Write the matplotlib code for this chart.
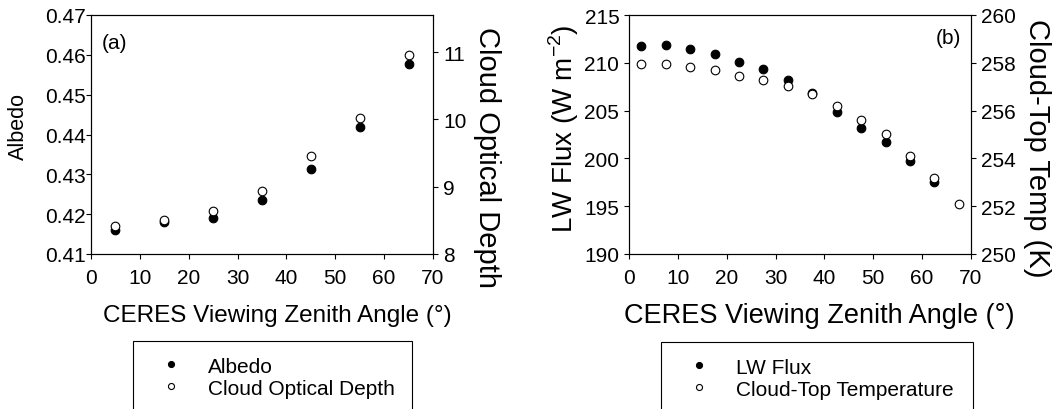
import matplotlib
matplotlib.use('Agg')
import matplotlib.pyplot as plt

plt.rcParams['font.family'] = ['Liberation Sans', 'DejaVu Sans']
plt.rcParams['mathtext.fontset'] = 'custom'
plt.rcParams['mathtext.rm'] = 'Liberation Sans'

# DATA
# panel (a): albedo and cloud optical depth vs viewing zenith angle
vza_a = [5, 15, 25, 35, 45, 55, 65]
albedo = [0.4159, 0.4180, 0.4191, 0.4236, 0.4313, 0.4420, 0.4577]
cod = [8.42, 8.51, 8.64, 8.93, 9.45, 10.02, 10.95]

# panel (b): LW flux and cloud-top temperature vs viewing zenith angle
vza_b = [2.5, 7.5, 12.5, 17.5, 22.5, 27.5, 32.5, 37.5, 42.5, 47.5, 52.5, 57.5, 62.5, 67.5]
lw_flux = [211.8, 211.9, 211.4, 210.9, 210.1, 209.3, 208.2, 206.8, 204.9, 203.2, 201.7, 199.7, 197.5]
ctt = [257.94, 257.94, 257.82, 257.69, 257.43, 257.29, 257.02, 256.68, 256.18, 255.61, 255.02, 254.11, 253.18, 252.09]

W, H = 1053, 410
fig = plt.figure(figsize=(W / 100, H / 100), dpi=100)

def style_axes(ax, left_pad):
    for s in ax.spines.values():
        s.set_linewidth(0.8)
    ax.tick_params(axis='x', direction='out', length=3.5, width=0.8, pad=6.5, labelsize=15, top=False)
    ax.tick_params(axis='y', direction='out', length=3.5, width=0.8, pad=left_pad, labelsize=15)

fill_kw = dict(marker='o', ls='none', ms=6.2, mfc='black', mec='black', mew=0.8, clip_on=False)
open_kw = dict(marker='o', ls='none', ms=6.2, mfc='white', mec='black', mew=0.8, clip_on=False)

# Panel (a)
ax_a = fig.add_axes([91 / W, 155 / H, 342 / W, 239 / H])
ax_a2 = ax_a.twinx()
la1, = ax_a.plot(vza_a, albedo, label='Albedo', **fill_kw)
la2, = ax_a2.plot(vza_a, cod, label='Cloud Optical Depth', **open_kw)
ax_a.set_xlim(0, 70)
ax_a.set_xticks(range(0, 71, 10))
ax_a.set_ylim(0.41, 0.47)
ax_a.set_yticks([0.41, 0.42, 0.43, 0.44, 0.45, 0.46, 0.47])
ax_a.set_yticklabels(['%.2f' % v for v in ax_a.get_yticks()])
ax_a2.set_ylim(8, 11.55)
ax_a2.set_yticks([8, 9, 10, 11])
style_axes(ax_a, 0.5)
ax_a2.tick_params(axis='y', direction='out', length=3.5, width=0.8, pad=4, labelsize=15)
ax_a.set_xlabel('CERES Viewing Zenith Angle (°)', fontsize=17.5, va='center')
ax_a.xaxis.set_label_coords(0.544, -0.255)
ax_a.set_ylabel('Albedo', fontsize=15.5, va='center')
ax_a.yaxis.set_label_coords(-0.211, 0.538)
ax_a2.set_ylabel('Cloud Optical Depth', fontsize=21, rotation=-90, va='center')
ax_a2.yaxis.set_label_coords(1.158, 0.406)
ax_a.text(0.03, 0.887, '(a)', transform=ax_a.transAxes, fontsize=15, ha='left', va='center')

# Panel (b)
ax_b = fig.add_axes([629 / W, 155 / H, 342 / W, 239 / H])
ax_b2 = ax_b.twinx()
lb1, = ax_b.plot(vza_b[:len(lw_flux)], lw_flux, label='LW Flux', **fill_kw)
lb2, = ax_b2.plot(vza_b, ctt, label='Cloud-Top Temperature', **open_kw)
ax_b.set_xlim(0, 70)
ax_b.set_xticks(range(0, 71, 10))
ax_b.set_ylim(190, 215)
ax_b.set_yticks(range(190, 216, 5))
ax_b2.set_ylim(250, 260)
ax_b2.set_yticks(range(250, 261, 2))
style_axes(ax_b, 3.5)
ax_b2.tick_params(axis='y', direction='out', length=3.5, width=0.8, pad=4, labelsize=15)
ax_b.set_xlabel('CERES Viewing Zenith Angle (°)', fontsize=19.5, va='center')
ax_b.xaxis.set_label_coords(0.557, -0.255)
ax_b.set_ylabel(r'LW Flux (W m$^{\mathrm{-2}}$)', fontsize=20, va='center')
ax_b.yaxis.set_label_coords(-0.192, 0.527)
ax_b2.set_ylabel('Cloud-Top Temp (K)', fontsize=21, rotation=-90, va='center')
ax_b2.yaxis.set_label_coords(1.192, 0.448)
ax_b.text(0.971, 0.904, '(b)', transform=ax_b.transAxes, fontsize=15, ha='right', va='center')

# Legends below each panel (boxes run off the bottom edge)
leg_kw = dict(loc='upper left', mode='expand', borderaxespad=0, fontsize=15,
              markerscale=0.7, labelspacing=0.15, borderpad=0.75,
              handlelength=2.1, handletextpad=0.75, frameon=True, fancybox=False,
              edgecolor='black', framealpha=1)
leg_a = fig.legend([la1, la2], ['Albedo', 'Cloud Optical Depth'],
                   bbox_to_anchor=(133 / W, 68 / H, 279 / W, 0), **leg_kw)
leg_a.get_frame().set_linewidth(0.8)
leg_b = fig.legend([lb1, lb2], ['LW Flux', 'Cloud-Top Temperature'],
                   bbox_to_anchor=(661 / W, 67 / H, 312 / W, 0), **leg_kw)
leg_b.get_frame().set_linewidth(0.8)

fig.savefig('out.png', dpi=100)
